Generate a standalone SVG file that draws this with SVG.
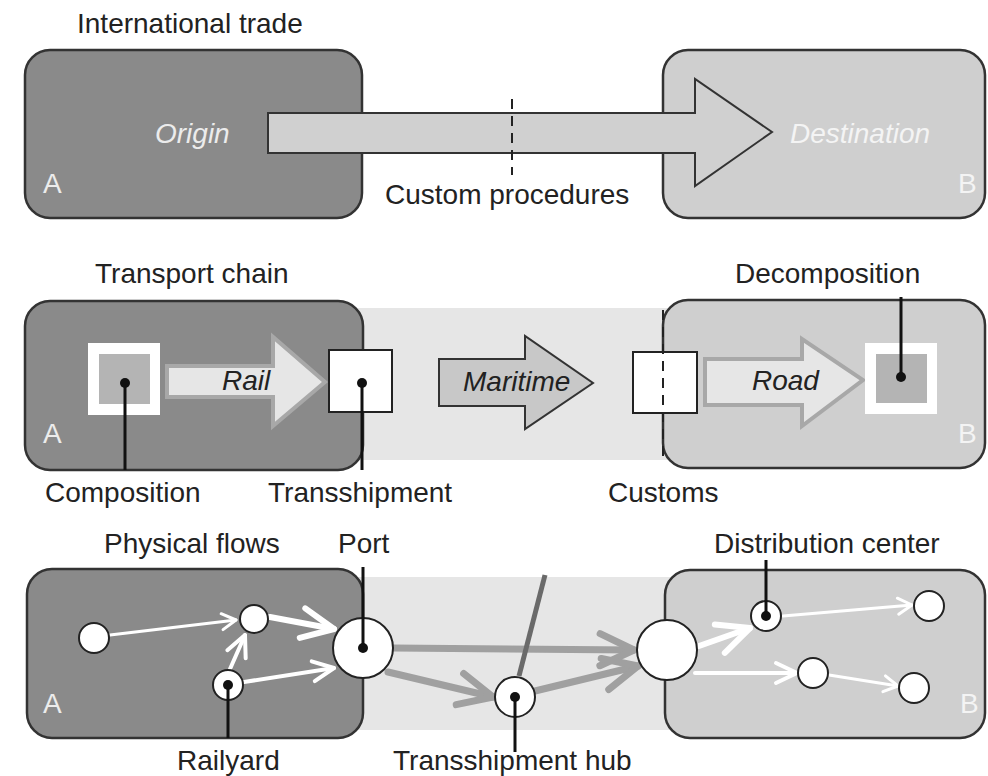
<svg xmlns="http://www.w3.org/2000/svg" width="988" height="776" viewBox="0 0 988 776">
<style>
  .t{font-family:"Liberation Sans",Arial,Helvetica,sans-serif;font-size:28px;fill:#222}
  .it{font-style:italic}
  .inA{fill:#ececec}
  .inB{fill:#f4f4f4}
  .boxA{fill:#8a8a8a;stroke:#333;stroke-width:2.5}
  .boxB{fill:#cfcfcf;stroke:#333;stroke-width:2.5}
  .band{fill:#e6e6e6}
  .sq{fill:#fff;stroke:#222;stroke-width:2}
  .node{fill:#fff;stroke:#222;stroke-width:2}
  .dot{fill:#111}
  .lead{stroke:#111;stroke-width:3;fill:none}
  .dash{stroke:#222;stroke-width:2;stroke-dasharray:10 7;fill:none}
  .bigArrow{fill:#d0d0d0;stroke:#333;stroke-width:2}
  .mArrow{fill:#c8c8c8;stroke:#333;stroke-width:2}
  .lArrow{fill:#e6e6e6;stroke:#a8a8a8;stroke-width:4}
  .g{stroke:#a0a0a0;stroke-width:7;fill:none;stroke-linecap:round}
  .wl{stroke:#fff;stroke-width:6;fill:none;stroke-linecap:round}
  .wm{stroke:#fff;stroke-width:4;fill:none;stroke-linecap:round}
  .ws{stroke:#fff;stroke-width:3;fill:none;stroke-linecap:round}
</style>
<defs>
  <marker id="chG" markerUnits="userSpaceOnUse" viewBox="-40 -22 46 44" markerWidth="46" markerHeight="44" refX="0" refY="0" orient="auto" overflow="visible">
    <path d="M-34,-16 L0,0 L-34,16" fill="none" stroke="#a0a0a0" stroke-width="7" stroke-linecap="round" stroke-linejoin="round"/>
  </marker>
  <marker id="chWL" markerUnits="userSpaceOnUse" viewBox="-40 -22 46 44" markerWidth="46" markerHeight="44" refX="0" refY="0" orient="auto" overflow="visible">
    <path d="M-32,-15 L0,0 L-32,15" fill="none" stroke="#fff" stroke-width="6" stroke-linecap="round" stroke-linejoin="round"/>
  </marker>
  <marker id="chWM" markerUnits="userSpaceOnUse" viewBox="-30 -16 34 32" markerWidth="34" markerHeight="32" refX="0" refY="0" orient="auto" overflow="visible">
    <path d="M-21,-10 L0,0 L-21,10" fill="none" stroke="#fff" stroke-width="4" stroke-linecap="round" stroke-linejoin="round"/>
  </marker>
  <marker id="chWS" markerUnits="userSpaceOnUse" viewBox="-20 -12 24 24" markerWidth="24" markerHeight="24" refX="0" refY="0" orient="auto" overflow="visible">
    <path d="M-14,-8 L0,0 L-14,8" fill="none" stroke="#fff" stroke-width="3" stroke-linecap="round" stroke-linejoin="round"/>
  </marker>
</defs>

<!-- ===== Section 1: International trade ===== -->
<text class="t" x="77" y="33">International trade</text>
<g id="origin1">
  <rect class="boxA" x="25" y="50" width="337" height="168" rx="25"/>
  <text class="t it inA" x="155" y="143">Origin</text>
  <text class="t inA" x="43" y="193">A</text>
</g>
<g id="destination1">
  <rect class="boxB" x="663" y="50" width="322" height="168" rx="25"/>
  <text class="t it inB" x="790" y="143">Destination</text>
  <text class="t inB" x="958" y="193">B</text>
</g>
<g id="connectors1">
  <polygon class="bigArrow" points="268,113 695,113 695,79 772,132 695,186 695,153 268,153"/>
  <line class="dash" x1="512" y1="99" x2="512" y2="175"/>
</g>
<text class="t" x="385" y="204">Custom procedures</text>

<!-- ===== Section 2: Transport chain ===== -->
<text class="t" x="95" y="283">Transport chain</text>
<text class="t" x="735" y="283">Decomposition</text>
<rect class="band" x="340" y="308" width="350" height="152"/>
<g id="origin2">
  <rect class="boxA" x="25" y="301" width="338" height="169" rx="25"/>
  <text class="t inA" x="43" y="443">A</text>
</g>
<g id="destination2">
  <rect class="boxB" x="663" y="300" width="322" height="168" rx="25"/>
  <text class="t inB" x="958" y="443">B</text>
</g>
<g id="connectors2">
  <polygon class="lArrow" points="167,366 273,366 273,337 325,382 273,426 273,397 167,397"/>
  <text class="t it" x="222" y="390">Rail</text>
  <polygon class="mArrow" points="439,359 525,359 525,336 593,383 525,429 525,406 439,406"/>
  <text class="t it" x="463" y="391">Maritime</text>
  <polygon class="lArrow" points="705,359 802,359 802,339 863,380 802,426 802,405 705,405"/>
  <text class="t it" x="752" y="390">Road</text>
</g>
<g id="composition">
  <rect x="88" y="343" width="72" height="72" fill="#fff"/>
  <rect x="99" y="354" width="51" height="50" fill="#b4b4b4"/>
  <line class="lead" x1="125" y1="383" x2="125" y2="470"/>
  <circle class="dot" cx="125" cy="383" r="5"/>
  <text class="t" x="45" y="502">Composition</text>
</g>
<g id="transshipment">
  <rect class="sq" x="329" y="350" width="63" height="62"/>
  <line class="lead" x1="362" y1="383" x2="362" y2="470"/>
  <circle class="dot" cx="362" cy="383" r="5"/>
  <text class="t" x="268" y="502">Transshipment</text>
</g>
<g id="customs">
  <rect class="sq" x="633" y="352" width="64" height="61"/>
  <line class="dash" x1="663" y1="310" x2="663" y2="460"/>
  <text class="t" x="608" y="502">Customs</text>
</g>
<g id="decomposition">
  <rect x="865" y="343" width="72" height="71" fill="#fff"/>
  <rect x="876" y="354" width="51" height="49" fill="#b4b4b4"/>
  <line class="lead" x1="901" y1="297" x2="901" y2="377"/>
  <circle class="dot" cx="901" cy="377" r="5"/>
</g>

<!-- ===== Section 3: Physical flows ===== -->
<text class="t" x="104" y="553">Physical flows</text>
<text class="t" x="338" y="553">Port</text>
<text class="t" x="714" y="553">Distribution center</text>
<rect class="band" x="340" y="577" width="350" height="153"/>
<g id="origin3">
  <rect class="boxA" x="27" y="569" width="336" height="169" rx="25"/>
  <text class="t inA" x="43" y="713">A</text>
</g>
<g id="destination3">
  <rect class="boxB" x="665" y="570" width="320" height="168" rx="25"/>
  <text class="t inB" x="960" y="713">B</text>
</g>
<g id="connectors">
  <line class="g" x1="393" y1="648" x2="634" y2="650" marker-end="url(#chG)"/>
  <line class="g" x1="388" y1="672" x2="493" y2="697" marker-end="url(#chG)"/>
  <line class="g" x1="535" y1="691" x2="638" y2="666" marker-end="url(#chG)"/>
  <line x1="519" y1="676" x2="545" y2="575" stroke="#6a6a6a" stroke-width="5"/>
  <line class="ws" x1="110" y1="635" x2="236" y2="620" marker-end="url(#chWS)"/>
  <line class="wl" x1="270" y1="617" x2="334" y2="629" marker-end="url(#chWL)"/>
  <line class="wm" x1="230" y1="669" x2="245" y2="635" marker-end="url(#chWM)"/>
  <line class="wm" x1="244" y1="682" x2="334" y2="668" marker-end="url(#chWM)"/>
  <line class="wl" x1="699" y1="646" x2="750" y2="628" marker-end="url(#chWL)"/>
  <line class="ws" x1="783" y1="616" x2="912" y2="605" marker-end="url(#chWS)"/>
  <line class="wm" x1="695" y1="673" x2="797" y2="673" marker-end="url(#chWM)"/>
  <line class="ws" x1="829" y1="675" x2="898" y2="686" marker-end="url(#chWS)"/>
</g>
<g id="node1"><circle class="node" cx="94" cy="638" r="15"/></g>
<g id="node2"><circle class="node" cx="254" cy="619" r="14"/></g>
<g id="railyard">
  <circle class="node" cx="228" cy="685" r="15"/>
  <line class="lead" x1="228" y1="685" x2="228" y2="738"/>
  <circle class="dot" cx="228" cy="685" r="5"/>
  <text class="t" x="177" y="770">Railyard</text>
</g>
<g id="port">
  <circle class="node" cx="363" cy="648" r="30"/>
  <line class="lead" x1="363" y1="567" x2="363" y2="648"/>
  <circle class="dot" cx="363" cy="648" r="5"/>
</g>
<g id="hub">
  <circle class="node" cx="515" cy="697" r="20"/>
  <line class="lead" x1="515" y1="697" x2="515" y2="752"/>
  <circle class="dot" cx="515" cy="697" r="5"/>
  <text class="t" x="393" y="770">Transshipment hub</text>
</g>
<g id="gateway"><circle class="node" cx="667" cy="650" r="30"/></g>
<g id="distribution">
  <circle class="node" cx="766" cy="616" r="15"/>
  <line class="lead" x1="766" y1="560" x2="766" y2="616"/>
  <circle class="dot" cx="766" cy="616" r="5"/>
</g>
<g id="node3"><circle class="node" cx="929" cy="606" r="15"/></g>
<g id="node4"><circle class="node" cx="813" cy="673" r="15"/></g>
<g id="node5"><circle class="node" cx="914" cy="688" r="15"/></g>
</svg>
